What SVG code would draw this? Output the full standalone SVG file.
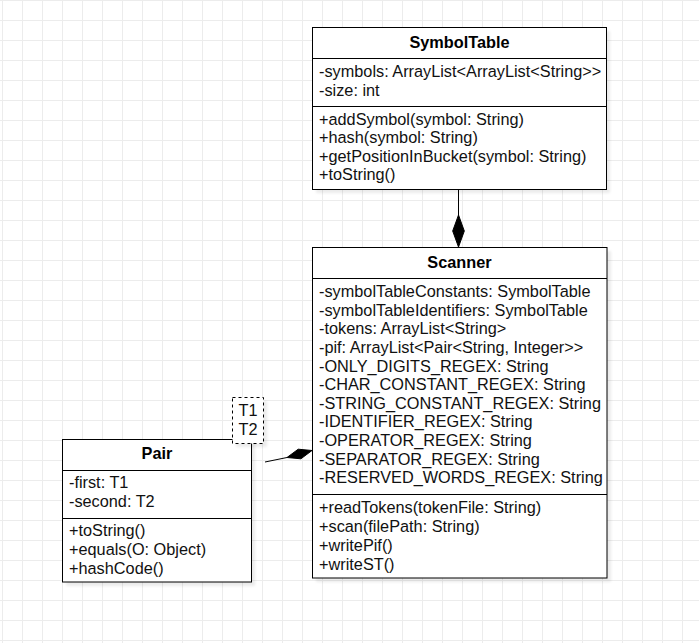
<svg xmlns="http://www.w3.org/2000/svg" width="699" height="643" viewBox="0 0 699 643">
  <defs>
    <pattern id="grid" x="0" y="0" width="20" height="20" patternUnits="userSpaceOnUse">
      <path d="M2.5 0 V20 M0 0.5 H20" stroke="#ececec" stroke-width="1" fill="none"/>
    </pattern>
    <filter id="sh" x="-10%" y="-10%" width="130%" height="130%">
      <feGaussianBlur stdDeviation="1.5"/>
    </filter>
  </defs>
  <style>
    .box { fill: #ffffff; stroke: #000000; stroke-width: 1; }
    .shadow { fill: #000000; opacity: 0.08; filter: url(#sh); }
    .div { stroke: #000000; stroke-width: 1; }
    .t { font-family: "Liberation Sans", Arial, sans-serif; font-size: 16.3px; fill: #111111; }
    .h { font-family: "Liberation Sans", Arial, sans-serif; font-size: 16.3px; font-weight: bold; fill: #000000; text-anchor: middle; }
    .edge { stroke: #000000; stroke-width: 1; fill: none; }
    .dia { fill: #000000; stroke: #000000; stroke-width: 1; }
  </style>
  <rect x="0" y="0" width="699" height="643" fill="#ffffff"/>
  <rect x="0" y="0" width="699" height="643" fill="url(#grid)"/>

  <g id="connectors">
    <path class="edge" d="M458.5 189 V215"/>
    <polygon class="dia" points="458.5,215 464.3,231 458.5,247 452.7,231"/>
    <path class="edge" d="M265 462 L287 457.5"/>
    <polygon class="dia" points="287,457.5 298.2,449.2 312,450.5 300.9,458.8"/>
  </g>

  <g id="SymbolTable">
    <rect class="shadow" x="316" y="31" width="294" height="162"/>
    <rect class="box" x="312.5" y="27.5" width="294" height="162"/>
    <line class="div" x1="312.5" y1="58.5" x2="606.5" y2="58.5"/>
    <line class="div" x1="312.5" y1="106.5" x2="606.5" y2="106.5"/>
    <text class="h" x="459.5" y="48">SymbolTable</text>
    <text class="t" x="319" y="77">-symbols: ArrayList&lt;ArrayList&lt;String&gt;&gt;</text>
    <text class="t" x="319" y="96">-size: int</text>
    <text class="t" x="319" y="124.5">+addSymbol(symbol: String)</text>
    <text class="t" x="319" y="143">+hash(symbol: String)</text>
    <text class="t" x="319" y="161.5">+getPositionInBucket(symbol: String)</text>
    <text class="t" x="319" y="180">+toString()</text>
  </g>

  <g id="Scanner">
    <rect class="shadow" x="316" y="251" width="295" height="331"/>
    <rect class="box" x="312.5" y="247.5" width="294.5" height="330.5"/>
    <line class="div" x1="312.5" y1="278.5" x2="607" y2="278.5"/>
    <line class="div" x1="312.5" y1="494.5" x2="607" y2="494.5"/>
    <text class="h" x="459.5" y="268">Scanner</text>
    <text class="t" x="319" y="297.2">-symbolTableConstants: SymbolTable</text>
    <text class="t" x="319" y="315.8">-symbolTableIdentifiers: SymbolTable</text>
    <text class="t" x="319" y="334.4">-tokens: ArrayList&lt;String&gt;</text>
    <text class="t" x="319" y="353">-pif: ArrayList&lt;Pair&lt;String, Integer&gt;&gt;</text>
    <text class="t" x="319" y="371.6">-ONLY_DIGITS_REGEX: String</text>
    <text class="t" x="319" y="390.2">-CHAR_CONSTANT_REGEX: String</text>
    <text class="t" x="319" y="408.8">-STRING_CONSTANT_REGEX: String</text>
    <text class="t" x="319" y="427.4">-IDENTIFIER_REGEX: String</text>
    <text class="t" x="319" y="446">-OPERATOR_REGEX: String</text>
    <text class="t" x="319" y="464.6">-SEPARATOR_REGEX: String</text>
    <text class="t" x="319" y="483.2">-RESERVED_WORDS_REGEX: String</text>
    <text class="t" x="319" y="513">+readTokens(tokenFile: String)</text>
    <text class="t" x="319" y="532">+scan(filePath: String)</text>
    <text class="t" x="319" y="550.5">+writePif()</text>
    <text class="t" x="319" y="569.5">+writeST()</text>
  </g>

  <g id="Pair">
    <rect class="shadow" x="66" y="443" width="189" height="143"/>
    <rect class="box" x="62.5" y="439.5" width="189" height="142.5"/>
    <line class="div" x1="62.5" y1="470.5" x2="251.5" y2="470.5"/>
    <line class="div" x1="62.5" y1="518.5" x2="251.5" y2="518.5"/>
    <text class="h" x="157" y="459">Pair</text>
    <text class="t" x="69" y="488">-first: T1</text>
    <text class="t" x="69" y="506.5">-second: T2</text>
    <text class="t" x="69" y="536">+toString()</text>
    <text class="t" x="69" y="555">+equals(O: Object)</text>
    <text class="t" x="69" y="573.5">+hashCode()</text>
    <rect class="shadow" x="236" y="401" width="31" height="46"/>
    <rect x="232.5" y="397.5" width="31" height="46" fill="#ffffff" stroke="#000000" stroke-width="1" stroke-dasharray="3,3"/>
    <text class="t" x="248" y="416" text-anchor="middle">T1</text>
    <text class="t" x="248" y="434.5" text-anchor="middle">T2</text>
  </g>
</svg>
